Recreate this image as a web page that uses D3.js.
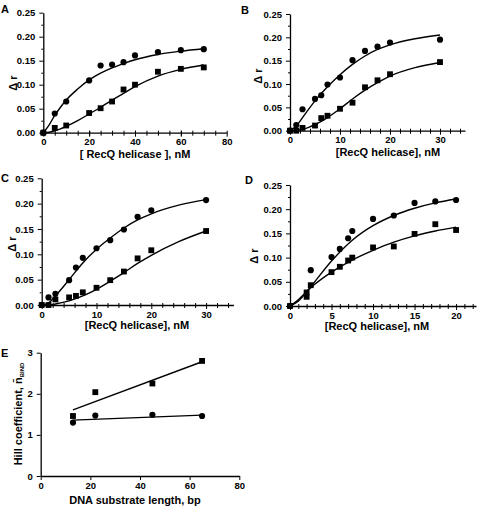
<!DOCTYPE html>
<html><head><meta charset="utf-8">
<script src="https://cdn.jsdelivr.net/npm/d3@7"></script>
<style>
body{margin:0;background:#fff}
svg{display:block}
text{font-family:"Liberation Sans",Arial,sans-serif;font-weight:bold;fill:#000}
</style>
</head><body>
<svg id="c" width="477" height="506"></svg>
<script>
// ---------- DATA ----------
// Panel A
const aX = [0,5,10,20,25,30,35,40,50,60,70];
const aCircles = [0,0.040,0.065,0.109,0.140,0.142,0.147,0.161,0.168,0.172,0.174];
const aSquares = [0,0.010,0.015,0.041,0.051,0.065,0.090,0.100,0.127,0.133,0.136];
const aFitX = [0,2.5,5,7.5,10,15,20,25,30,35,40,50,60,70];
const aFitCircles = [0,0.016,0.036,0.053,0.068,0.091,0.110,0.124,0.135,0.144,0.152,0.163,0.170,0.175];
const aFitSquares = [0,0.001,0.004,0.008,0.013,0.025,0.039,0.053,0.068,0.082,0.096,0.118,0.132,0.141];
// Panel B
const bX = [0,1.25,2.5,5,6.25,7.5,10,12.5,15,17.5,20,30];
const bCircles = [0,0.012,0.046,0.068,0.076,0.099,0.114,0.151,0.171,0.180,0.189,0.195];
const bSquares = [0,0,0.006,0.011,0.027,0.032,0.047,0.060,0.093,0.108,0.121,0.147];
const bFitX = [0,1.25,2.5,5,7.5,10,12.5,15,17.5,20,25,30];
const bFitCircles = [0,0.010,0.028,0.064,0.094,0.120,0.142,0.160,0.174,0.184,0.197,0.205];
const bFitSquares = [0,0.001,0.003,0.013,0.028,0.047,0.068,0.087,0.103,0.117,0.135,0.146];
// Panel C
const cX = [0,1.25,2.5,5,6.25,7.5,10,12.5,15,17.5,20,30];
const cCircles = [0,0.015,0.022,0.049,0.074,0.093,0.112,0.128,0.149,0.174,0.187,0.207];
const cSquares = [0,0,0.011,0.015,0.018,0.025,0.034,0.049,0.066,0.092,0.108,0.146];
const cFitX = [0,1.25,2.5,5,7.5,10,12.5,15,17.5,20,25,30];
const cFitCircles = [0,0.004,0.018,0.050,0.083,0.110,0.132,0.152,0.168,0.180,0.197,0.208];
const cFitSquares = [0,0,0.002,0.008,0.018,0.031,0.047,0.064,0.082,0.098,0.125,0.146];
// Panel D
const dCircX = [0,2.5,5,6,7,7.5,10,12.5,15,17.5,20];
const dCircles = [0,0.074,0.101,0.118,0.140,0.155,0.180,0.187,0.213,0.216,0.219];
const dSqX = [0,2,2,2.5,5,6,7,7.5,10,12.5,15,17.5,20];
const dSquares = [0,0.019,0.028,0.043,0.070,0.081,0.094,0.100,0.121,0.123,0.149,0.169,0.157];
const dFitX = [0,1,2.5,5,7.5,10,12.5,15,17.5,20];
const dFitCircles = [0,0.010,0.040,0.093,0.136,0.166,0.187,0.202,0.213,0.221];
const dFitSquares = [0,0.013,0.038,0.070,0.095,0.115,0.132,0.145,0.155,0.163];
// Panel E
const eLength = [13,22,45,65];
const eSquares = [1.46,2.04,2.25,2.80];
const eCircles = [1.30,1.47,1.49,1.46];
const eFitX = [13,65];
const eFitSquares = [1.61,2.78];
const eFitCircles = [1.36,1.48];

const panelLetters = ["A","B","C","D","E"];
const xTitleA = "[ RecQ helicase ], nM";
const xTitleBCD = "[RecQ helicase], nM";
const yTitleABCD = "\u0394 r";
const xTitleE = "DNA substrate length, bp";

// ---------- DRAW ----------
const svg = d3.select("#c");
const zip = (xs, ys) => xs.map((v,i)=>[v, ys[i]]);
const TICK_FONT = 9.5;

function panel(cfg){
  const g = svg.append("g");
  const x = d3.scaleLinear().domain(cfg.xDomain).range(cfg.xRange);
  const y = d3.scaleLinear().domain(cfg.yDomain).range(cfg.yRange);
  const y0 = cfg.yRange[0], x0 = cfg.xRange[0];

  if (cfg.xMinor) {
    const ax = g.append("g").attr("transform",`translate(0,${y0})`)
      .call(d3.axisBottom(x).tickValues(cfg.xMinor).tickSize(3).tickSizeOuter(0).tickFormat(""));
    ax.select(".domain").remove();
    ax.selectAll(".tick line").attr("y1",-2).attr("stroke-width",1);
  }
  const axX = g.append("g").attr("transform",`translate(0,${y0})`)
    .call(d3.axisBottom(x).tickValues(cfg.xMajor).tickSize(4).tickSizeOuter(0).tickPadding(2).tickFormat(d3.format("d")));
  axX.select(".domain").attr("stroke-width",1.3);
  axX.selectAll(".tick line").attr("y1", cfg.xTickUp===undefined ? -2 : cfg.xTickUp).attr("stroke-width",1);
  axX.selectAll(".tick text").attr("font-size",TICK_FONT).attr("font-family",'"Liberation Sans",Arial,sans-serif').attr("font-weight","bold");

  if (cfg.yMinor) {
    const ay = g.append("g").attr("transform",`translate(${x0},0)`)
      .call(d3.axisLeft(y).tickValues(cfg.yMinor).tickSize(2).tickSizeOuter(0).tickFormat(""));
    ay.select(".domain").remove();
  }
  const axY = g.append("g").attr("transform",`translate(${x0},0)`)
    .call(d3.axisLeft(y).tickValues(cfg.yMajor).tickSize(4).tickSizeOuter(0).tickPadding(4).tickFormat(cfg.yFormat));
  axY.select(".domain").attr("stroke-width",1.3);
  axY.selectAll(".tick text").attr("font-size",TICK_FONT).attr("font-family",'"Liberation Sans",Arial,sans-serif').attr("font-weight","bold");

  const line = d3.line().x(d=>x(d[0])).y(d=>y(d[1])).curve(d3.curveMonotoneX);
  cfg.fits.forEach(f=>{
    g.append("path").datum(f).attr("d",line).attr("fill","none").attr("stroke","#000").attr("stroke-width",1.4);
  });
  g.selectAll(null).data(cfg.squares).join("path")
    .attr("transform",d=>`translate(${x(d[0])},${y(d[1])})`)
    .attr("d", d3.symbol(d3.symbolSquare, 34)).attr("fill","#000");
  g.selectAll(null).data(cfg.circles).join("path")
    .attr("transform",d=>`translate(${x(d[0])},${y(d[1])})`)
    .attr("d", d3.symbol(d3.symbolCircle, 30)).attr("fill","#000");

  g.append("text").attr("x",cfg.xTitlePos[0]).attr("y",cfg.xTitlePos[1]).attr("text-anchor","middle")
    .attr("font-size",11).text(cfg.xTitle);
  const yt = g.append("text").attr("transform",`translate(${cfg.yTitlePos[0]},${cfg.yTitlePos[1]}) rotate(-90)`)
    .attr("text-anchor","middle").attr("font-size",11);
  if (cfg.yTitleSub) {
    yt.append("tspan").text(cfg.yTitle);
    yt.append("tspan").attr("font-size",6).attr("dy",1.5).text(cfg.yTitleSub);
  } else yt.text(cfg.yTitle);
  g.append("text").attr("x",cfg.letterPos[0]).attr("y",cfg.letterPos[1]).attr("font-size",11).text(cfg.letter);
}

const f2 = d3.format(".2f");
const yMaj = d3.range(0,0.2501,0.05);
const yMin = d3.range(0.025,0.25,0.05);

panel({
  xDomain:[0,80], xRange:[43.3,226.7], yDomain:[0,0.25], yRange:[132.7,12.7],
  xMajor:d3.range(0,81,20), xMinor:d3.range(5,80,5), yMajor:yMaj, yMinor:yMin, yFormat:f2,
  circles:zip(aX,aCircles), squares:zip(aX,aSquares),
  fits:[zip(aFitX,aFitCircles), zip(aFitX,aFitSquares)],
  xTitle:xTitleA, xTitlePos:[135,158], yTitle:yTitleABCD, yTitlePos:[17,83],
  letter:panelLetters[0], letterPos:[1,13]
});
panel({
  xDomain:[0,35], xRange:[290,465], yDomain:[0,0.25], yRange:[130.7,14],
  xMajor:[0,10,20,30], xMinor:d3.range(2,35,2).filter(v=>v%10!==0), yMajor:yMaj, yMinor:yMin, yFormat:f2,
  circles:zip(bX,bCircles), squares:zip(bX,bSquares),
  fits:[zip(bFitX,bFitCircles), zip(bFitX,bFitSquares)],
  xTitle:xTitleBCD, xTitlePos:[388,156], yTitle:yTitleABCD, yTitlePos:[262,76],
  letter:panelLetters[1], letterPos:[241,14]
});
panel({
  xDomain:[0,35], xRange:[41.7,233.5], yDomain:[0,0.25], yRange:[305,178.3],
  xMajor:[0,10,20,30], xMinor:d3.range(2,35,2).filter(v=>v%10!==0), yMajor:yMaj, yMinor:yMin, yFormat:f2,
  circles:zip(cX,cCircles), squares:zip(cX,cSquares),
  fits:[zip(cFitX,cFitCircles), zip(cFitX,cFitSquares)],
  xTitle:xTitleBCD, xTitlePos:[137,329], yTitle:yTitleABCD, yTitlePos:[16,244],
  letter:panelLetters[2], letterPos:[1,182]
});
panel({
  xDomain:[0,22.4], xRange:[290,476], yDomain:[0,0.25], yRange:[306,185],
  xMajor:[0,5,10,15,20], xMinor:d3.range(1,23,1).filter(v=>v%5!==0), yMajor:yMaj, yMinor:yMin, yFormat:f2,
  circles:zip(dCircX,dCircles), squares:zip(dSqX,dSquares),
  fits:[zip(dFitX,dFitCircles), zip(dFitX,dFitSquares)],
  xTitle:xTitleBCD, xTitlePos:[377,330], yTitle:yTitleABCD, yTitlePos:[258,256],
  letter:panelLetters[3], letterPos:[245,184]
});
panel({
  xDomain:[0,80], xRange:[40.7,239.3], yDomain:[0,3], yRange:[476,352.7],
  xMajor:[0,20,40,60,80], xMinor:null, xTickUp:0, yMajor:[0,1,2,3], yMinor:null, yFormat:d3.format("d"),
  circles:zip(eLength,eCircles), squares:zip(eLength,eSquares),
  fits:[zip(eFitX,eFitCircles), zip(eFitX,eFitSquares)],
  xTitle:xTitleE, xTitlePos:[135,504], yTitle:"Hill coefficient, n\u0304", yTitleSub:"BIND", yTitlePos:[22,414],
  letter:panelLetters[4], letterPos:[1,357]
});
</script>
</body></html>
